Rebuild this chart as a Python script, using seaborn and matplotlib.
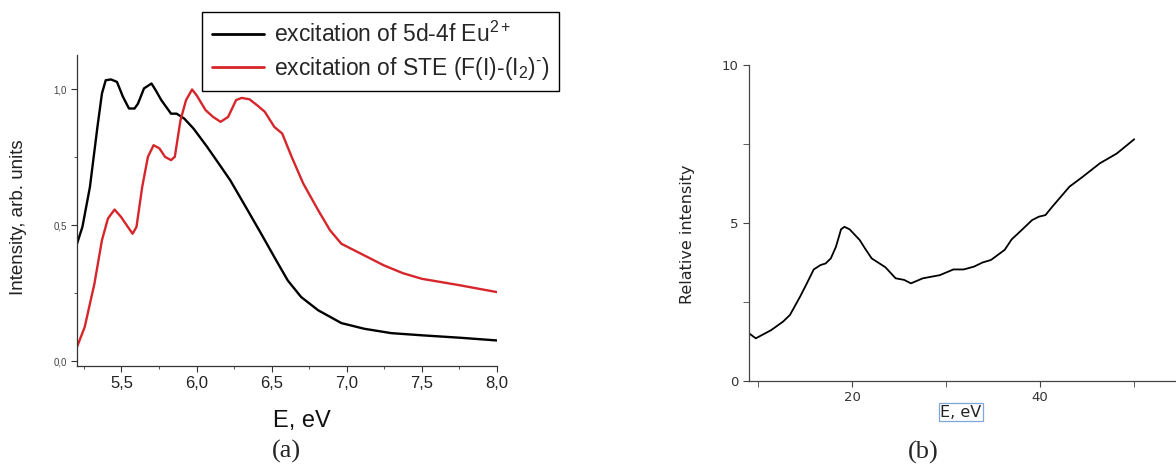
import numpy as np
import pandas as pd
import matplotlib
matplotlib.use("Agg")
import matplotlib.pyplot as plt
from matplotlib.ticker import MultipleLocator, FuncFormatter
import seaborn as sns

# ---- data: panel (a) ----
eu_E = [5.204, 5.24, 5.29, 5.34, 5.37, 5.395, 5.43, 5.47, 5.51, 5.55, 5.587, 5.61, 5.65, 5.70,
        5.727, 5.765, 5.83, 5.867, 5.918, 5.98, 6.07, 6.148, 6.224, 6.327, 6.43, 6.53, 6.607,
        6.696, 6.81, 6.964, 7.117, 7.296, 7.50, 7.755, 8.0]
eu_I = [0.432, 0.494, 0.641, 0.862, 0.985, 1.034, 1.037, 1.028, 0.973, 0.930, 0.930, 0.948, 1.004,
        1.022, 0.998, 0.961, 0.911, 0.911, 0.893, 0.856, 0.789, 0.727, 0.666, 0.568, 0.469,
        0.371, 0.297, 0.236, 0.187, 0.140, 0.119, 0.103, 0.095, 0.086, 0.076]
ste_E = [5.204, 5.255, 5.32, 5.37, 5.41, 5.454, 5.497, 5.55, 5.574, 5.60, 5.638, 5.676, 5.714,
         5.753, 5.79, 5.83, 5.855, 5.893, 5.93, 5.97, 6.0, 6.06, 6.11, 6.16, 6.21, 6.263, 6.30,
         6.352, 6.403, 6.454, 6.518, 6.57, 6.633, 6.71, 6.81, 6.888, 6.964, 7.117, 7.245, 7.372,
         7.50, 7.755, 8.0]
ste_I = [0.052, 0.125, 0.285, 0.445, 0.525, 0.558, 0.531, 0.488, 0.469, 0.494, 0.641, 0.752,
         0.795, 0.783, 0.752, 0.740, 0.752, 0.887, 0.961, 1.000, 0.979, 0.924, 0.899, 0.881,
         0.899, 0.961, 0.969, 0.964, 0.942, 0.918, 0.862, 0.838, 0.752, 0.654, 0.555, 0.482,
         0.432, 0.389, 0.353, 0.324, 0.303, 0.279, 0.254]
legend_labels = ["excitation of 5d-4f Eu$^{2+}$", "excitation of STE (F(I)-(I$_2$)$^{\\text{-}}$)"]

# ---- data: panel (b) ----
b_E = [9.04, 9.76, 11.4, 12.67, 13.4, 14.48, 15.2, 15.93, 16.66, 17.2, 17.75, 18.3, 18.84, 19.2,
       19.75, 20.83, 21.38, 22.1, 23.56, 24.65, 25.55, 26.28, 27.55, 29.36, 30.8, 31.9, 33.0,
       33.9, 34.8, 36.26, 37.0, 38.08, 39.17, 39.9, 40.6, 41.34, 43.16, 44.6, 46.4, 48.2, 50.05]
b_I = [1.51, 1.35, 1.61, 1.88, 2.09, 2.67, 3.09, 3.53, 3.67, 3.72, 3.88, 4.25, 4.80, 4.88, 4.80,
       4.46, 4.20, 3.88, 3.60, 3.25, 3.20, 3.09, 3.25, 3.35, 3.53, 3.53, 3.62, 3.75, 3.83, 4.15,
       4.48, 4.78, 5.09, 5.20, 5.25, 5.52, 6.15, 6.47, 6.89, 7.20, 7.65]

sns.set_style("ticks")
plt.rcParams['font.family'] = ['Liberation Sans', 'DejaVu Sans']
plt.rcParams['mathtext.fontset'] = 'custom'
plt.rcParams['mathtext.rm'] = 'Liberation Sans'
plt.rcParams['mathtext.it'] = 'Liberation Sans:italic'
plt.rcParams['mathtext.default'] = 'regular'

W, H = 1176, 468
fig = plt.figure(figsize=(W / 100, H / 100), dpi=100)

def fr(x0, y0, x1, y1):
    return [x0 / W, 1 - y1 / H, (x1 - x0) / W, (y1 - y0) / H]

# ---------- panel (a) ----------
axa = fig.add_axes(fr(77, 55, 497, 366))
sns.lineplot(x=eu_E, y=eu_I, ax=axa, color="black", lw=1.7, label=legend_labels[0], legend=False)
sns.lineplot(x=ste_E, y=ste_I, ax=axa, color="#d6262b", lw=1.7, label=legend_labels[1], legend=False)
axa.set_xlim(5.204, 8.0)
axa.set_ylim(-0.018, 1.127)
for s in ["top", "right"]:
    axa.spines[s].set_visible(False)
for s in ["left", "bottom"]:
    axa.spines[s].set_color("#333333")
    axa.spines[s].set_linewidth(0.9)
axa.xaxis.set_major_locator(MultipleLocator(0.5))
axa.xaxis.set_minor_locator(MultipleLocator(0.25))
axa.yaxis.set_major_locator(MultipleLocator(0.5))
axa.yaxis.set_minor_locator(MultipleLocator(0.25))
comma = FuncFormatter(lambda v, p: f"{v:.1f}".replace(".", ","))
axa.xaxis.set_major_formatter(comma)
axa.yaxis.set_major_formatter(comma)
axa.tick_params(axis="x", which="major", labelsize=12, length=4, direction="out", color="#333333", labelcolor="#222222")
axa.tick_params(axis="y", which="major", labelsize=7, length=4, direction="out", color="#333333", labelcolor="#444444")
axa.tick_params(which="minor", length=2.5, direction="out", color="#333333")
axa.set_xlabel("E, eV", fontsize=17, color="#111111")
axa.xaxis.set_label_coords(0.536, -0.14)
axa.set_ylabel("Intensity, arb. units", fontsize=13.5, color="#222222")
axa.yaxis.set_label_coords(-0.118, 0.479)

h, l = axa.get_legend_handles_labels()
leg = fig.legend(h, l, loc="upper left", bbox_to_anchor=(202 / W, 1 - 12 / H), fontsize=16.5,
                 frameon=True, fancybox=False, edgecolor="black", framealpha=1, handlelength=2.3,
                 handletextpad=0.4, borderpad=0.42, labelspacing=0.35, borderaxespad=0)
leg.get_frame().set_linewidth(1.0)
for ln in leg.get_lines():
    ln.set_linewidth(2.0)

fig.text(286 / W, 1 - 451 / H, "(a)", family="Liberation Serif", fontsize=19, ha="center", va="center")

# ---------- panel (b) ----------
axb = fig.add_axes(fr(749, 65, 1176, 381))
sns.lineplot(x=b_E, y=b_I, ax=axb, color="black", lw=1.3)
axb.set_xlim(9.04, 54.5)
axb.set_ylim(0, 10)
for s in ["top", "right"]:
    axb.spines[s].set_visible(False)
for s in ["left", "bottom"]:
    axb.spines[s].set_color("#444444")
    axb.spines[s].set_linewidth(0.9)
axb.set_xticks([20, 40])
axb.set_xticks([10, 30, 50], minor=True)
axb.set_yticks([0, 5, 10])
axb.set_yticks([2.5, 7.5], minor=True)
axb.tick_params(which="major", labelsize=9.5, length=4, direction="out", color="#444444", labelcolor="#333333")
axb.tick_params(which="minor", length=4, direction="out", color="#444444")
for t in axb.get_xticklabels() + axb.get_yticklabels():
    t.set_family("DejaVu Sans")
axb.set_xlabel("E, eV", fontsize=11.5, family="DejaVu Sans", color="#222222",
               bbox=dict(boxstyle="square,pad=0.08", fc="none", ec="#7fa6d6", lw=0.9))
axb.xaxis.set_label_coords(0.496, -0.075)
axb.set_ylabel("Relative intensity", fontsize=11.5, family="DejaVu Sans", color="#222222")
axb.yaxis.set_label_coords(-0.126, 0.465)

fig.text(923 / W, 1 - 452 / H, "(b)", family="Liberation Serif", fontsize=19, ha="center", va="center")

fig.savefig("out.png", dpi=100)
